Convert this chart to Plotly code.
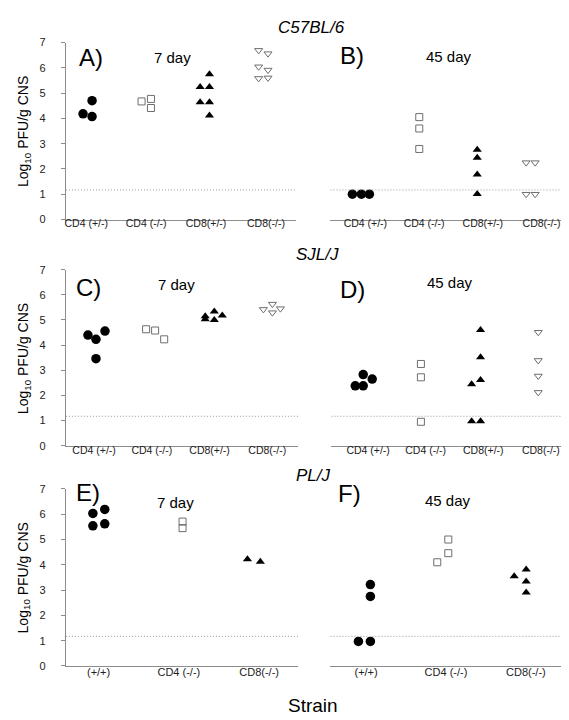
import plotly.graph_objects as go

W, H = 569, 720
FONT = "Liberation Sans, Arial, sans-serif"

# ---------------- data ----------------
strain_titles = ["C57BL/6", "SJL/J", "PL/J"]
panel_letters = ["A)", "B)", "C)", "D)", "E)", "F)"]
day_labels = ["7 day", "45 day", "7 day", "45 day", "7 day", "45 day"]
detection_limit = 1.17

cats4 = ["CD4 (+/-)", "CD4 (-/-)", "CD8(+/-)", "CD8(-/-)"]
cats3 = ["(+/+)", "CD4 (-/-)", "CD8(-/-)"]

# Panel A (C57BL/6, 7 day)
A_g1 = [4.18, 4.07, 4.70];                    A_g1_off = [-0.054, 0.097, 0.097]
A_g2 = [4.67, 4.77, 4.41];                    A_g2_off = [-0.077, 0.080, 0.080]
A_g3 = [5.75, 5.24, 5.24, 4.64, 4.64, 4.11];  A_g3_off = [0.057, -0.099, 0.057, -0.099, 0.057, 0.057]
A_g4 = [6.69, 6.56, 6.04, 5.91, 5.58, 5.60];  A_g4_off = [-0.122, 0.034, -0.122, 0.034, -0.122, 0.034]
# Panel B (C57BL/6, 45 day)
B_g1 = [1.0, 1.0, 1.0];                       B_g1_off = [-0.221, -0.068, 0.068]
B_g2 = [4.05, 3.60, 2.79];                    B_g2_off = [-0.082, -0.082, -0.082]
B_g3 = [2.76, 2.44, 1.78, 1.01];              B_g3_off = [-0.095, -0.095, -0.095, -0.095]
B_g4 = [2.25, 2.25, 1.0, 1.0];                B_g4_off = [-0.262, -0.109, -0.262, -0.109]
# Panel C (SJL/J, 7 day)
C_g1 = [4.40, 4.23, 4.56, 3.46];              C_g1_off = [-0.106, 0.033, 0.189, 0.033]
C_g2 = [4.63, 4.58, 4.23];                    C_g2_off = [-0.099, 0.057, 0.214]
C_g3 = [5.15, 5.03, 5.34, 5.00, 5.18];        C_g3_off = [-0.075, -0.075, 0.082, 0.082, 0.220]
C_g4 = [5.42, 5.63, 5.29, 5.45];              C_g4_off = [-0.068, 0.089, 0.089, 0.227]
# Panel D (SJL/J, 45 day)
D_g1 = [2.38, 2.38, 2.83, 2.65];              D_g1_off = [-0.223, -0.085, -0.085, 0.071]
D_g2 = [3.25, 2.72, 0.95];                    D_g2_off = [-0.083, -0.083, -0.083]
D_g3 = [4.60, 3.52, 2.61, 0.97, 2.44, 0.97];  D_g3_off = [-0.047, -0.047, -0.047, -0.047, -0.202, -0.202]
D_g4 = [4.51, 3.39, 2.77, 2.12];              D_g4_off = [-0.045, -0.045, -0.045, -0.045]
# Panel E (PL/J, 7 day)
E_g1 = [6.03, 5.54, 6.19, 5.62];              E_g1_off = [-0.071, -0.071, 0.077, 0.077]
E_g2 = [5.71, 5.45];                          E_g2_off = [0.046, 0.046]
E_g3 = [4.22, 4.12];                          E_g3_off = [-0.146, 0.015]
# Panel F (PL/J, 45 day)
F_g1 = [3.22, 2.75, 0.97, 0.97];              F_g1_off = [0.054, 0.054, 0.054, -0.096]
F_g2 = [5.00, 4.46, 4.10];                    F_g2_off = [0.029, 0.029, -0.109]
F_g3 = [3.81, 3.34, 2.90, 3.55];              F_g3_off = [0.004, 0.004, 0.004, -0.146]

# ---------------- styles ----------------
AXIS_GREY = "#8c8c8c"
S_CIRCLE = dict(symbol="circle", size=9.5, color="black", line=dict(width=0))
S_SQUARE = dict(symbol="square-open", size=7, color="#6e6e6e", line=dict(width=1, color="#6e6e6e"))
S_TRI = dict(symbol="triangle-up", size=8, color="black", line=dict(width=0))
S_TRID = dict(symbol="triangle-down-open", size=7, color="#6e6e6e", line=dict(width=1, color="#6e6e6e"))

panels = [
    ([(A_g1, A_g1_off, S_CIRCLE), (A_g2, A_g2_off, S_SQUARE), (A_g3, A_g3_off, S_TRI), (A_g4, A_g4_off, S_TRID)],
     cats4, [0.66, 4.51], (57, 288), (29, 209), True, 10.5, -6),
    ([(B_g1, B_g1_off, S_CIRCLE), (B_g2, B_g2_off, S_SQUARE), (B_g3, B_g3_off, S_TRI), (B_g4, B_g4_off, S_TRID)],
     cats4, [0.405, 4.40], (322, 557), (29, 209), False, 10.5, -6),
    ([(C_g1, C_g1_off, S_CIRCLE), (C_g2, C_g2_off, S_SQUARE), (C_g3, C_g3_off, S_TRI), (C_g4, C_g4_off, S_TRID)],
     cats4, [0.512, 4.54], (57, 290), (260, 439), True, 10.5, -5),
    ([(D_g1, D_g1_off, S_CIRCLE), (D_g2, D_g2_off, S_SQUARE), (D_g3, D_g3_off, S_TRI), (D_g4, D_g4_off, S_TRID)],
     cats4, [0.363, 4.42], (323, 557), (260, 439), False, 10.5, -5),
    ([(E_g1, E_g1_off, S_CIRCLE), (E_g2, E_g2_off, S_SQUARE), (E_g3, E_g3_off, S_TRI)],
     cats3, [0.593, 3.49], (57, 290), (483, 663), True, 11, -4),
    ([(F_g1, F_g1_off, S_CIRCLE), (F_g2, F_g2_off, S_SQUARE), (F_g3, F_g3_off, S_TRI)],
     cats3, [0.554, 3.49], (322, 557), (483, 663), False, 11, -4),
]

fig = go.Figure()
layout = dict(width=W, height=H, autosize=False, margin=dict(l=0, r=0, t=0, b=0),
              paper_bgcolor="white", plot_bgcolor="white", showlegend=False,
              font=dict(family=FONT, color="#222"))
shapes, annotations = [], []

for i, (groups, cats, xr, (x0, x1), (yt, yb), showy, tfs, xso) in enumerate(panels):
    n = i + 1
    xa = "x" if n == 1 else f"x{n}"
    ya = "y" if n == 1 else f"y{n}"
    for gi, (vals, offs, style) in enumerate(groups):
        fig.add_trace(go.Scatter(
            x=[gi + 1 + o for o in offs], y=vals, mode="markers",
            marker=style, xaxis=xa, yaxis=ya, hoverinfo="skip", cliponaxis=False))
    layout["xaxis" if n == 1 else f"xaxis{n}"] = dict(
        domain=[x0 / W, x1 / W], range=xr, anchor=ya, showgrid=False, zeroline=False,
        showline=True, linecolor=AXIS_GREY, linewidth=1, ticks="",
        tickvals=list(range(1, len(cats) + 1)), ticktext=cats,
        tickfont=dict(size=tfs, color="#222", family=FONT), ticklabelstandoff=xso)
    layout["yaxis" if n == 1 else f"yaxis{n}"] = dict(
        domain=[1 - yb / H, 1 - yt / H], range=[0, 7], anchor=xa, showgrid=False, zeroline=False,
        showline=showy, linecolor=AXIS_GREY, linewidth=1,
        ticks="outside" if showy else "", ticklen=4, tickcolor=AXIS_GREY,
        tickvals=list(range(0, 8)), showticklabels=showy,
        tickfont=dict(size=11, color="#222", family=FONT), ticklabelstandoff=13)
    shapes.append(dict(type="line", xref=f"{xa} domain", yref=ya, x0=0, x1=1,
                       y0=detection_limit, y1=detection_limit,
                       line=dict(color="#999", width=1, dash="1px,2px")))

letter_pos = [(68, 44), (330, 42), (65, 278), (330, 280), (65, 487), (328, 488)]
day_pos = [(164, 44), (441, 43), (168, 275), (442, 273), (167, 497), (440, 495)]
for k in range(6):
    lx, ly = letter_pos[k]
    annotations.append(dict(text=panel_letters[k], x=lx / W, y=1 - ly / H, xref="paper", yref="paper",
                            xanchor="left", yanchor="middle", showarrow=False,
                            font=dict(size=24, color="black", family=FONT)))
    dx, dy = day_pos[k]
    annotations.append(dict(text=day_labels[k], x=dx / W, y=1 - dy / H, xref="paper", yref="paper",
                            xanchor="center", yanchor="middle", showarrow=False,
                            font=dict(size=15, color="black", family=FONT)))

title_pos = [(303, 14), (309, 245), (305, 469)]
for t, (tx, ty) in zip(strain_titles, title_pos):
    annotations.append(dict(text=f"<i>{t}</i>", x=tx / W, y=1 - ty / H, xref="paper", yref="paper",
                            xanchor="center", yanchor="middle", showarrow=False,
                            font=dict(size=17, color="black", family=FONT)))

for yc in [119, 350, 573]:
    annotations.append(dict(text="Log<sub>10</sub> PFU/g CNS", x=15 / W, y=1 - yc / H,
                            xref="paper", yref="paper", textangle=-90,
                            xanchor="center", yanchor="middle", showarrow=False,
                            font=dict(size=14, color="black", family=FONT)))

annotations.append(dict(text="Strain", x=305 / W, y=1 - 703 / H, xref="paper", yref="paper",
                        xanchor="center", yanchor="middle", showarrow=False,
                        font=dict(size=19, color="black", family=FONT)))

layout["shapes"] = shapes
layout["annotations"] = annotations
fig.update_layout(**layout)
fig.write_html("out.html")
